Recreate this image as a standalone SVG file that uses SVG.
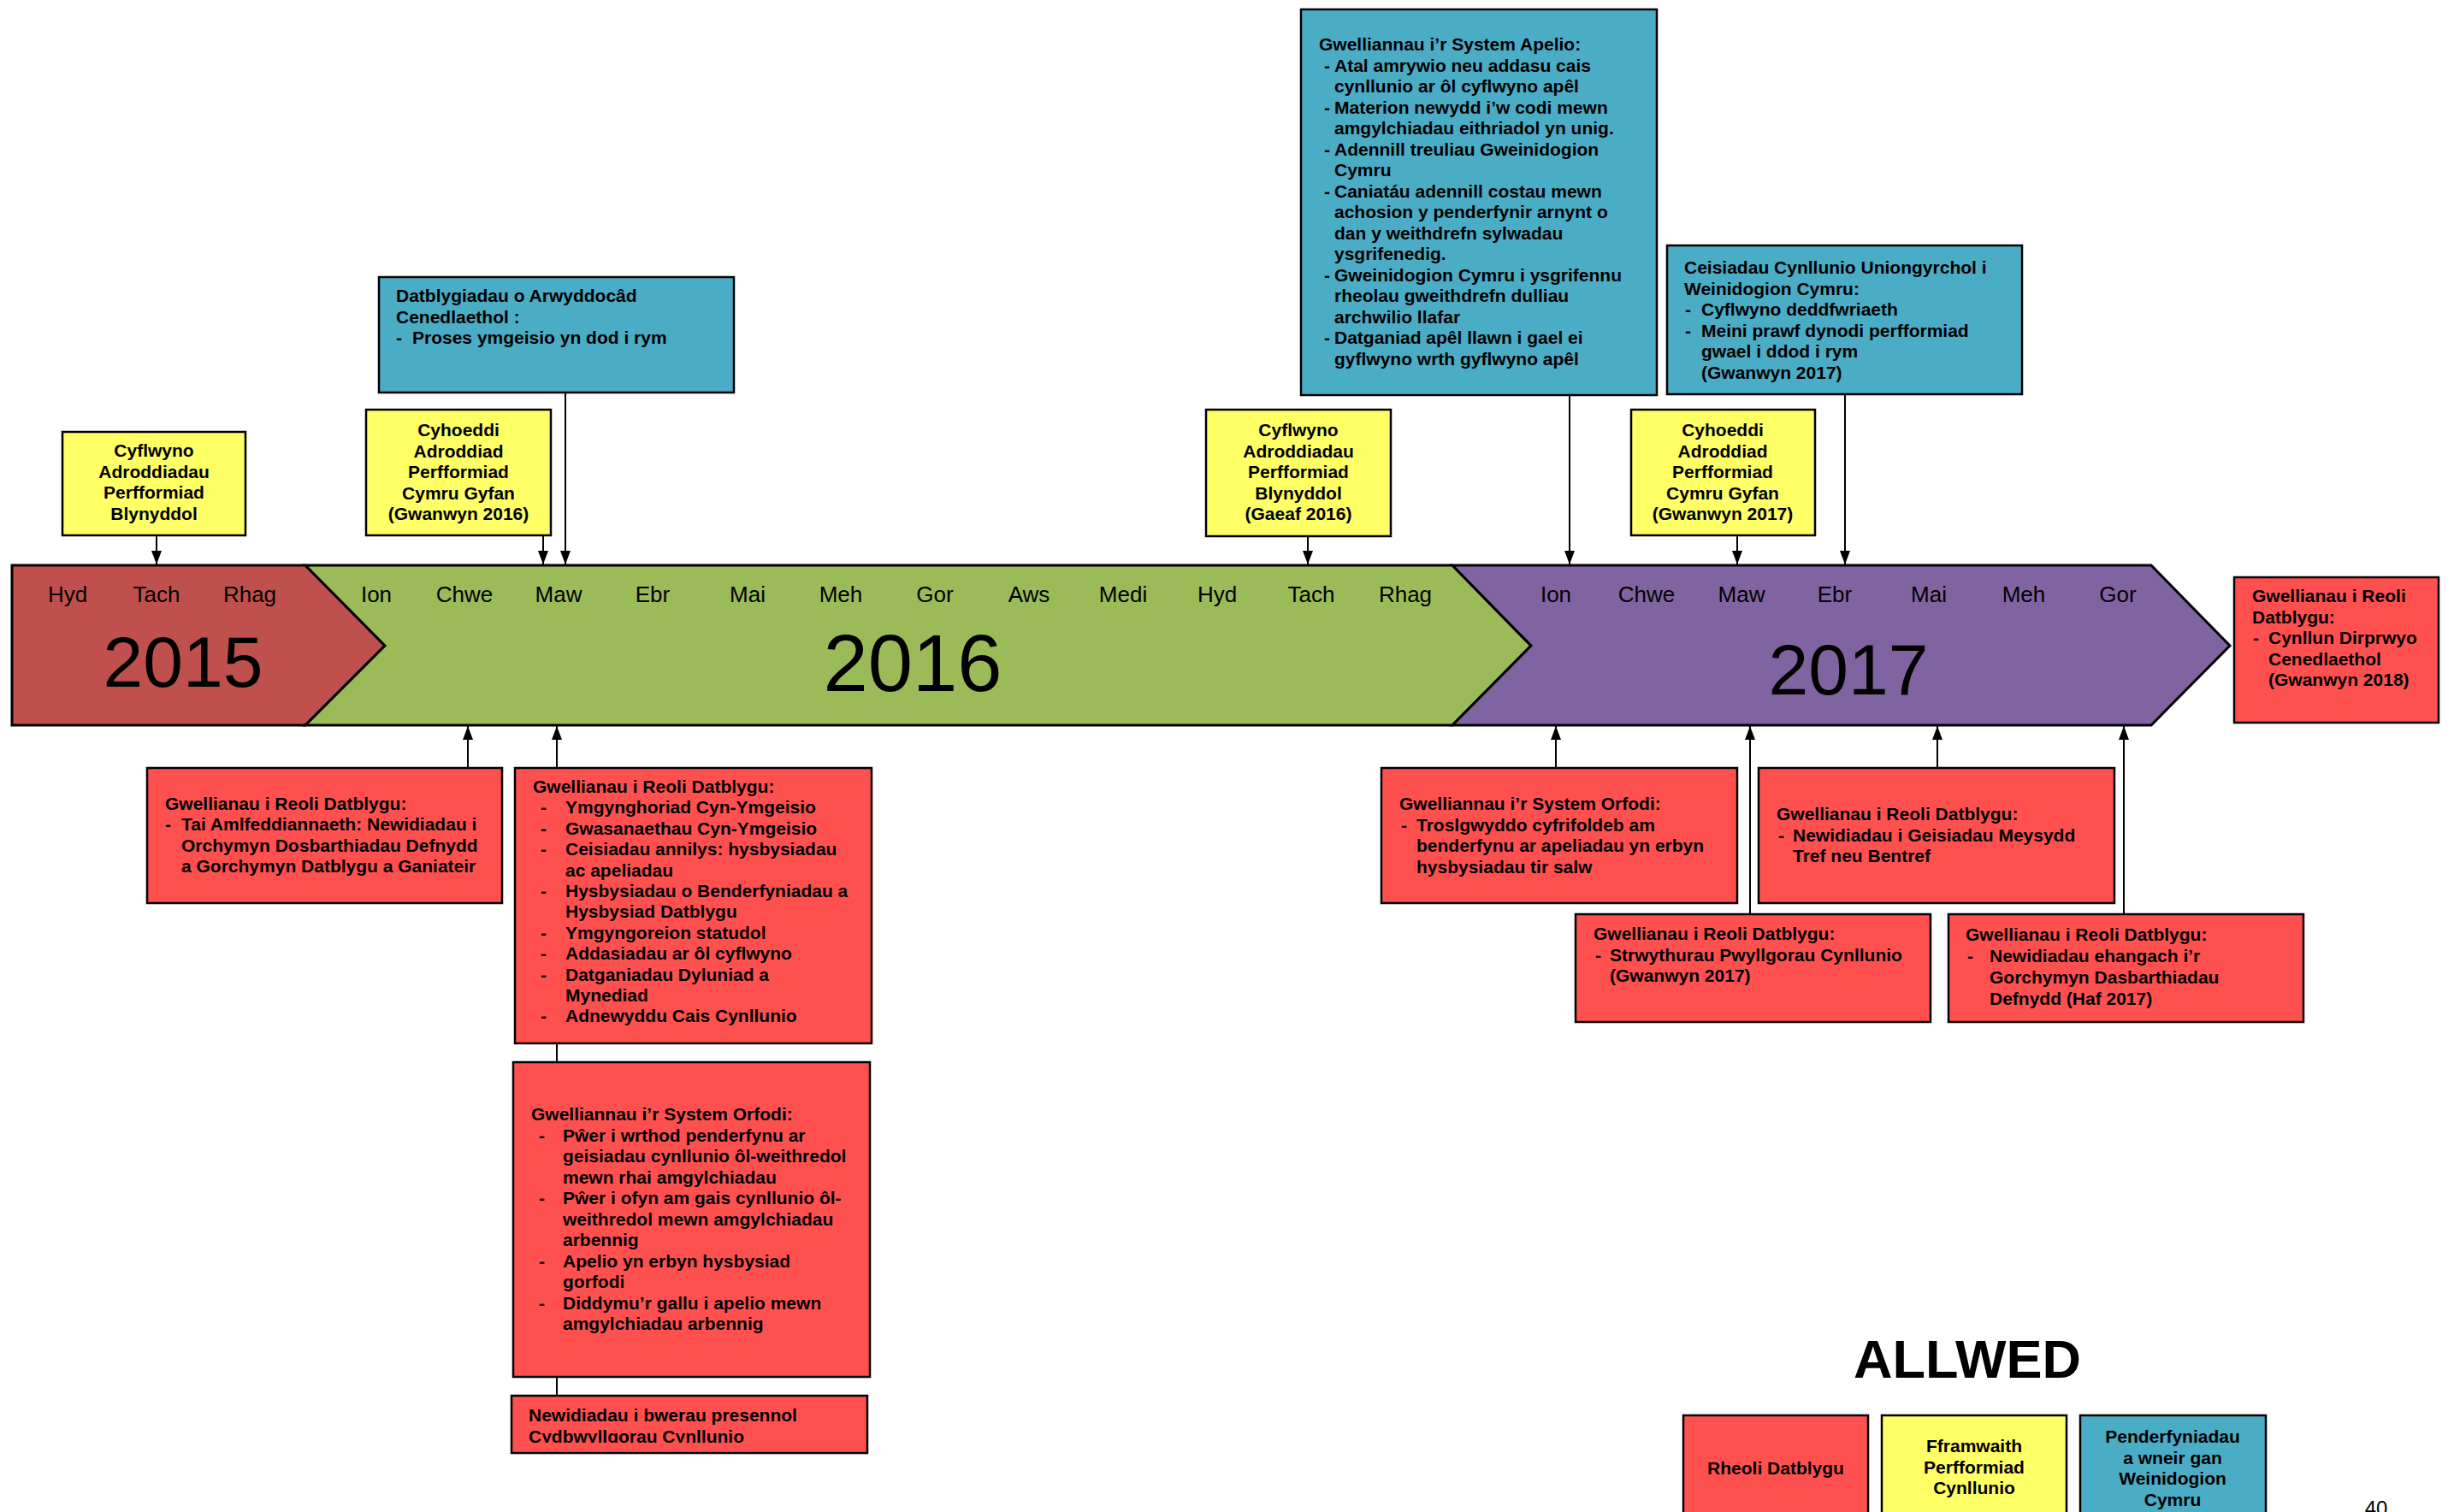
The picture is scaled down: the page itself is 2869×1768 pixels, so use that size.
<svg xmlns="http://www.w3.org/2000/svg" width="2869" height="1768" viewBox="0 0 2869 1768">
<style>
.t{font-family:"Liberation Sans",Arial,sans-serif;font-weight:bold;font-size:21px;fill:#000}
.c{text-anchor:middle}
.mo{font-family:"Liberation Sans",Arial,sans-serif;font-size:26px;fill:#000;text-anchor:middle}
.yr{font-family:"Liberation Sans",Arial,sans-serif;fill:#000;text-anchor:middle}
.red{fill:#FF5050;stroke:#000;stroke-width:2.5}
.yel{fill:#FFFF66;stroke:#000;stroke-width:2.5}
.blu{fill:#4BACC6;stroke:#000;stroke-width:2.5}
.seg{stroke:#000;stroke-width:3;stroke-linejoin:miter}
.ln{stroke:#000;stroke-width:2;fill:none}
</style>
<defs>
<marker id="ah" markerUnits="userSpaceOnUse" markerWidth="16" markerHeight="12" refX="16" refY="6" orient="auto">
<path d="M0,0 L16,6 L0,12 z" fill="#000"/>
</marker>
<clipPath id="clipD"><rect x="598" y="1632" width="416" height="55"/></clipPath>
</defs>
<rect width="2869" height="1768" fill="#fff"/>

<g id="timeline">
<polygon class="seg" fill="#C0504D" points="14,661 357,661 450,755 357,848 14,848"/>
<polygon class="seg" fill="#9BBB59" points="357,661 1698,661 1790,755 1698,848 357,848 450,755"/>
<polygon class="seg" fill="#8064A2" points="1698,661 2515,661 2607,755 2515,848 1698,848 1790,755"/>
<text class="mo" y="704"><tspan x="79">Hyd</tspan><tspan x="183">Tach</tspan><tspan x="292">Rhag</tspan><tspan x="440">Ion</tspan><tspan x="543">Chwe</tspan><tspan x="653">Maw</tspan><tspan x="763">Ebr</tspan><tspan x="874">Mai</tspan><tspan x="983">Meh</tspan><tspan x="1093">Gor</tspan><tspan x="1203">Aws</tspan><tspan x="1313">Medi</tspan><tspan x="1423">Hyd</tspan><tspan x="1533">Tach</tspan><tspan x="1643">Rhag</tspan><tspan x="1819">Ion</tspan><tspan x="1925">Chwe</tspan><tspan x="2036">Maw</tspan><tspan x="2145">Ebr</tspan><tspan x="2255">Mai</tspan><tspan x="2366">Meh</tspan><tspan x="2476">Gor</tspan></text>
<text class="yr" x="214" y="803" font-size="84">2015</text>
<text class="yr" x="1067" y="808" font-size="94">2016</text>
<text class="yr" x="2161" y="812" font-size="84">2017</text>
</g>

<g id="connectors">
<line class="ln" x1="183" y1="626" x2="183" y2="660" marker-end="url(#ah)"/>
<line class="ln" x1="635" y1="626" x2="635" y2="660" marker-end="url(#ah)"/>
<line class="ln" x1="661" y1="459" x2="661" y2="660" marker-end="url(#ah)"/>
<line class="ln" x1="1529" y1="627" x2="1529" y2="660" marker-end="url(#ah)"/>
<line class="ln" x1="1835" y1="462" x2="1835" y2="660" marker-end="url(#ah)"/>
<line class="ln" x1="2031" y1="626" x2="2031" y2="660" marker-end="url(#ah)"/>
<line class="ln" x1="2157" y1="461" x2="2157" y2="660" marker-end="url(#ah)"/>
<line class="ln" x1="547" y1="898" x2="547" y2="849" marker-end="url(#ah)"/>
<line class="ln" x1="651" y1="898" x2="651" y2="849" marker-end="url(#ah)"/>
<line class="ln" x1="1819" y1="898" x2="1819" y2="849" marker-end="url(#ah)"/>
<line class="ln" x1="2046" y1="1069" x2="2046" y2="849" marker-end="url(#ah)"/>
<line class="ln" x1="2265" y1="898" x2="2265" y2="849" marker-end="url(#ah)"/>
<line class="ln" x1="2483" y1="1069" x2="2483" y2="849" marker-end="url(#ah)"/>
<line class="ln" x1="651" y1="1220" x2="651" y2="1242"/>
<line class="ln" x1="651" y1="1610" x2="651" y2="1632"/>
</g>

<g id="y1">
<rect class="yel" x="73" y="505" width="214" height="121"/>
<text class="t c"><tspan x="180" y="534">Cyflwyno</tspan><tspan x="180" y="558.5">Adroddiadau</tspan><tspan x="180" y="583">Perfformiad</tspan><tspan x="180" y="607.5">Blynyddol</tspan></text>
</g>
<g id="y2">
<rect class="yel" x="428" y="479" width="216" height="147"/>
<text class="t c"><tspan x="536" y="510">Cyhoeddi</tspan><tspan x="536" y="534.5">Adroddiad</tspan><tspan x="536" y="559">Perfformiad</tspan><tspan x="536" y="583.5">Cymru Gyfan</tspan><tspan x="536" y="608">(Gwanwyn 2016)</tspan></text>
</g>
<g id="y3">
<rect class="yel" x="1410" y="479" width="216" height="148"/>
<text class="t c"><tspan x="1518" y="510">Cyflwyno</tspan><tspan x="1518" y="534.5">Adroddiadau</tspan><tspan x="1518" y="559">Perfformiad</tspan><tspan x="1518" y="583.5">Blynyddol</tspan><tspan x="1518" y="608">(Gaeaf 2016)</tspan></text>
</g>
<g id="y4">
<rect class="yel" x="1907" y="479" width="215" height="147"/>
<text class="t c"><tspan x="2014" y="510">Cyhoeddi</tspan><tspan x="2014" y="534.5">Adroddiad</tspan><tspan x="2014" y="559">Perfformiad</tspan><tspan x="2014" y="583.5">Cymru Gyfan</tspan><tspan x="2014" y="608">(Gwanwyn 2017)</tspan></text>
</g>

<g id="b1">
<rect class="blu" x="443" y="324" width="415" height="135"/>
<text class="t"><tspan x="463" y="353">Datblygiadau o Arwyddocâd</tspan><tspan x="463" y="377.5">Cenedlaethol :</tspan><tspan x="463" y="402">-</tspan><tspan x="482" y="402">Proses ymgeisio yn dod i rym</tspan></text>
</g>
<g id="b2">
<rect class="blu" x="1521" y="11" width="416" height="451"/>
<text class="t"><tspan x="1542" y="59">Gwelliannau i’r System Apelio:</tspan>
<tspan x="1548" y="83.5">-</tspan><tspan x="1560" y="83.5">Atal amrywio neu addasu cais</tspan>
<tspan x="1560" y="108">cynllunio ar ôl cyflwyno apêl</tspan>
<tspan x="1548" y="132.5">-</tspan><tspan x="1560" y="132.5">Materion newydd i’w codi mewn</tspan>
<tspan x="1560" y="157">amgylchiadau eithriadol yn unig.</tspan>
<tspan x="1548" y="181.5">-</tspan><tspan x="1560" y="181.5">Adennill treuliau Gweinidogion</tspan>
<tspan x="1560" y="206">Cymru</tspan>
<tspan x="1548" y="230.5">-</tspan><tspan x="1560" y="230.5">Caniatáu adennill costau mewn</tspan>
<tspan x="1560" y="255">achosion y penderfynir arnynt o</tspan>
<tspan x="1560" y="279.5">dan y weithdrefn sylwadau</tspan>
<tspan x="1560" y="304">ysgrifenedig.</tspan>
<tspan x="1548" y="328.5">-</tspan><tspan x="1560" y="328.5">Gweinidogion Cymru i ysgrifennu</tspan>
<tspan x="1560" y="353">rheolau gweithdrefn dulliau</tspan>
<tspan x="1560" y="377.5">archwilio llafar</tspan>
<tspan x="1548" y="402">-</tspan><tspan x="1560" y="402">Datganiad apêl llawn i gael ei</tspan>
<tspan x="1560" y="426.5">gyflwyno wrth gyflwyno apêl</tspan></text>
</g>
<g id="b3">
<rect class="blu" x="1949" y="287" width="415" height="174"/>
<text class="t"><tspan x="1969" y="320">Ceisiadau Cynllunio Uniongyrchol i</tspan><tspan x="1969" y="344.5">Weinidogion Cymru:</tspan><tspan x="1970" y="369">-</tspan><tspan x="1989" y="369">Cyflwyno deddfwriaeth</tspan><tspan x="1970" y="393.5">-</tspan><tspan x="1989" y="393.5">Meini prawf dynodi perfformiad</tspan><tspan x="1989" y="418">gwael i ddod i rym</tspan><tspan x="1989" y="442.5">(Gwanwyn 2017)</tspan></text>
</g>

<g id="r0">
<rect class="red" x="2612" y="675" width="239" height="170"/>
<text class="t"><tspan x="2633" y="704">Gwellianau i Reoli</tspan><tspan x="2633" y="728.5">Datblygu:</tspan><tspan x="2634" y="753">-</tspan><tspan x="2652" y="753">Cynllun Dirprwyo</tspan><tspan x="2652" y="777.5">Cenedlaethol</tspan><tspan x="2652" y="802">(Gwanwyn 2018)</tspan></text>
</g>

<g id="rA">
<rect class="red" x="172" y="898" width="415" height="158"/>
<text class="t"><tspan x="193" y="946.5">Gwellianau i Reoli Datblygu:</tspan><tspan x="193" y="971">-</tspan><tspan x="212" y="971">Tai Amlfeddiannaeth: Newidiadau i</tspan><tspan x="212" y="995.5">Orchymyn Dosbarthiadau Defnydd</tspan><tspan x="212" y="1020">a Gorchymyn Datblygu a Ganiateir</tspan></text>
</g>
<g id="rB">
<rect class="red" x="602" y="898" width="417" height="322"/>
<text class="t"><tspan x="623" y="927">Gwellianau i Reoli Datblygu:</tspan>
<tspan x="632" y="951.4">-</tspan><tspan x="661" y="951.4">Ymgynghoriad Cyn-Ymgeisio</tspan>
<tspan x="632" y="975.8">-</tspan><tspan x="661" y="975.8">Gwasanaethau Cyn-Ymgeisio</tspan>
<tspan x="632" y="1000.2">-</tspan><tspan x="661" y="1000.2">Ceisiadau annilys: hysbysiadau</tspan>
<tspan x="661" y="1024.6">ac apeliadau</tspan>
<tspan x="632" y="1049">-</tspan><tspan x="661" y="1049">Hysbysiadau o Benderfyniadau a</tspan>
<tspan x="661" y="1073.4">Hysbysiad Datblygu</tspan>
<tspan x="632" y="1097.8">-</tspan><tspan x="661" y="1097.8">Ymgyngoreion statudol</tspan>
<tspan x="632" y="1122.2">-</tspan><tspan x="661" y="1122.2">Addasiadau ar ôl cyflwyno</tspan>
<tspan x="632" y="1146.6">-</tspan><tspan x="661" y="1146.6">Datganiadau Dyluniad a</tspan>
<tspan x="661" y="1171">Mynediad</tspan>
<tspan x="632" y="1195.4">-</tspan><tspan x="661" y="1195.4">Adnewyddu Cais Cynllunio</tspan></text>
</g>
<g id="rC">
<rect class="red" x="600" y="1242" width="417" height="368"/>
<text class="t"><tspan x="621" y="1310">Gwelliannau i’r System Orfodi:</tspan>
<tspan x="630" y="1334.5">-</tspan><tspan x="658" y="1334.5">Pŵer i wrthod penderfynu ar</tspan>
<tspan x="658" y="1359">geisiadau cynllunio ôl-weithredol</tspan>
<tspan x="658" y="1383.5">mewn rhai amgylchiadau</tspan>
<tspan x="630" y="1408">-</tspan><tspan x="658" y="1408">Pŵer i ofyn am gais cynllunio ôl-</tspan>
<tspan x="658" y="1432.5">weithredol mewn amgylchiadau</tspan>
<tspan x="658" y="1457">arbennig</tspan>
<tspan x="630" y="1481.5">-</tspan><tspan x="658" y="1481.5">Apelio yn erbyn hysbysiad</tspan>
<tspan x="658" y="1506">gorfodi</tspan>
<tspan x="630" y="1530.5">-</tspan><tspan x="658" y="1530.5">Diddymu’r gallu i apelio mewn</tspan>
<tspan x="658" y="1555">amgylchiadau arbennig</tspan></text>
</g>
<g id="rD">
<rect class="red" x="598" y="1632" width="416" height="67"/>
<text class="t" clip-path="url(#clipD)"><tspan x="618" y="1662">Newidiadau i bwerau presennol</tspan><tspan x="618" y="1686.5">Cydbwyllgorau Cynllunio</tspan></text>
</g>

<g id="rE">
<rect class="red" x="1615" y="898" width="416" height="158"/>
<text class="t"><tspan x="1636" y="947">Gwelliannau i’r System Orfodi:</tspan><tspan x="1638" y="971.5">-</tspan><tspan x="1656" y="971.5">Troslgwyddo cyfrifoldeb am</tspan><tspan x="1656" y="996">benderfynu ar apeliadau yn erbyn</tspan><tspan x="1656" y="1020.5">hysbysiadau tir salw</tspan></text>
</g>
<g id="rF">
<rect class="red" x="1842" y="1069" width="415" height="126"/>
<text class="t"><tspan x="1863" y="1099">Gwellianau i Reoli Datblygu:</tspan><tspan x="1865" y="1123.5">-</tspan><tspan x="1882" y="1123.5">Strwythurau Pwyllgorau Cynllunio</tspan><tspan x="1882" y="1148">(Gwanwyn 2017)</tspan></text>
</g>
<g id="rG">
<rect class="red" x="2056" y="898" width="416" height="158"/>
<text class="t"><tspan x="2077" y="959">Gwellianau i Reoli Datblygu:</tspan><tspan x="2079" y="983.5">-</tspan><tspan x="2096" y="983.5">Newidiadau i Geisiadau Meysydd</tspan><tspan x="2096" y="1008">Tref neu Bentref</tspan></text>
</g>
<g id="rH">
<rect class="red" x="2278" y="1069" width="415" height="126"/>
<text class="t"><tspan x="2298" y="1100">Gwellianau i Reoli Datblygu:</tspan><tspan x="2300" y="1125">-</tspan><tspan x="2326" y="1125">Newidiadau ehangach i’r</tspan><tspan x="2326" y="1150">Gorchymyn Dasbarthiadau</tspan><tspan x="2326" y="1175">Defnydd (Haf 2017)</tspan></text>
</g>

<g id="legend">
<text class="t c" x="2300" y="1611" style="font-size:63px">ALLWED</text>
<rect class="red" x="1968" y="1655" width="216" height="120"/>
<text class="t c" x="2076" y="1724">Rheoli Datblygu</text>
<rect class="yel" x="2200" y="1655" width="216" height="120"/>
<text class="t c"><tspan x="2308" y="1698">Fframwaith</tspan><tspan x="2308" y="1722.5">Perfformiad</tspan><tspan x="2308" y="1747">Cynllunio</tspan></text>
<rect class="blu" x="2432" y="1655" width="217" height="120"/>
<text class="t c"><tspan x="2540" y="1687">Penderfyniadau</tspan><tspan x="2540" y="1711.5">a wneir gan</tspan><tspan x="2540" y="1736">Weinidogion</tspan><tspan x="2540" y="1760.5">Cymru</tspan></text>
</g>
<text x="2778" y="1772" font-family="Liberation Sans, Arial, sans-serif" font-size="24" text-anchor="middle">40</text>
</svg>
